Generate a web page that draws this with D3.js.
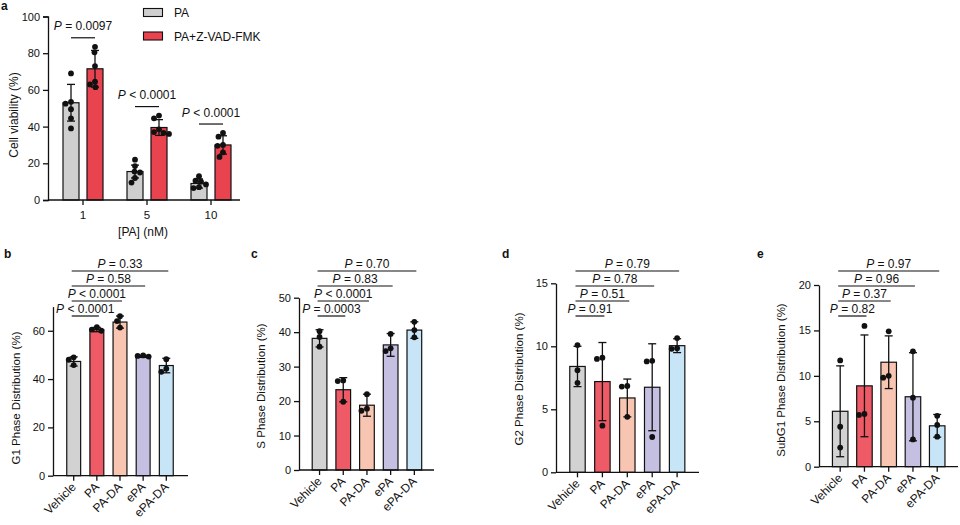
<!DOCTYPE html>
<html><head><meta charset="utf-8">
<script src="https://cdn.jsdelivr.net/npm/d3@7"></script>
<style>
body{margin:0;background:#fff;}
svg{display:block;font-family:"Liberation Sans",Arial,sans-serif;}
svg text{font-family:"Liberation Sans",Arial,sans-serif;}
</style></head><body><svg id="chart" width="960" height="525"></svg>
<script>
// ---------- Panel a data ----------
const doseCategories = ["1", "5", "10"];
const treatmentSeries = ["PA", "PA+Z-VAD-FMK"];
const viabilityMeanPA = [53, 15.5, 9];
const viabilitySdPA = [10, 3.5, 2.5];
const viabilityMeanZVAD = [71.5, 39.5, 30];
const viabilitySdZVAD = [10, 4.3, 5];
const viabilityPointsPA = [[69, 53.5, 52.5, 49.5, 44.5, 39], [22, 18.5, 15.5, 15, 12, 9.5], [13, 10.5, 10, 8.5, 7, 6.5]];
const viabilityPointsZVAD = [[83.5, 80.5, 73, 64.5, 63, 61.5], [46, 44.5, 38.5, 37, 36.5, 36], [36.5, 34.5, 30, 29.5, 26, 23.5]];
const viabilityPLabels = ["= 0.0097", "< 0.0001", "< 0.0001"];
const viabilityTicks = [0, 20, 40, 60, 80, 100];

// ---------- Panels b–e data ----------
const groups = ["Vehicle", "PA", "PA-DA", "ePA", "ePA-DA"];

const g1Mean = [47.3, 60.5, 63.6, 49.4, 45.6];
const g1Sd = [1.9, 0.9, 2.5, 0.4, 3.0];
const g1Points = [[49, 48, 45.8], [61.5, 60.5, 60], [66, 64, 61.3], [49.8, 49.6, 49.3], [48.2, 44.3, 43]];
const g1PLabels = ["< 0.0001", "< 0.0001", "= 0.58", "= 0.33"];
const g1Ticks = [0, 20, 40, 60];

const sMean = [38.2, 23.3, 18.8, 36.3, 40.6];
const sSd = [2.5, 3.5, 3.2, 3.3, 2.4];
const sPoints = [[40.3, 38.6, 35.8], [26, 25.8, 19.8], [22, 17.8, 17.2], [39.5, 35.3, 34.5], [43, 40.6, 38.5]];
const sPLabels = ["= 0.0003", "< 0.0001", "= 0.83", "= 0.70"];
const sTicks = [0, 10, 20, 30, 40, 50];

const g2Mean = [8.4, 7.2, 5.9, 6.75, 10.05];
const g2Sd = [1.6, 3.1, 1.5, 3.45, 0.55];
const g2Points = [[10.1, 8.1, 7.1], [9.1, 9.0, 3.7], [6.85, 6.8, 4.4], [8.85, 8.8, 2.8], [10.65, 9.85, 9.8]];
const g2PLabels = ["= 0.91", "= 0.51", "= 0.78", "= 0.79"];
const g2Ticks = [0, 5, 10, 15];

const subG1Mean = [6.1, 8.9, 11.5, 7.7, 4.5];
const subG1Sd = [5.0, 5.6, 2.9, 4.85, 1.25];
const subG1Points = [[11.7, 4.4, 2.1], [15.5, 5.7, 5.8], [14.9, 9.8, 10.0], [12.7, 7.6, 3.0], [5.6, 4.6, 3.3]];
const subG1PLabels = ["= 0.82", "= 0.37", "= 0.96", "= 0.97"];
const subG1Ticks = [0, 5, 10, 15, 20];

// ---------- styling ----------
const colorsA = ["#cfcfcf", "#e8434f"];
const groupColors = ["#d2d2d2", "#ee5a66", "#f8c5b2", "#c5c0e2", "#c8e5f7"];
const INK = "#111";
const FONT = "Liberation Sans, Arial, sans-serif";
const svg = d3.select("#chart");

function placePoints(vals, y, r) {
  // small deterministic beeswarm: offset points horizontally only when they overlap
  const order = vals.map((v, i) => ({i, py: y(v)})).sort((a, b) => a.py - b.py);
  const placed = [], off = new Array(vals.length).fill(0);
  const d = 2 * r * 0.95;
  order.forEach(p => {
    let best = 0;
    for (let k = 0; k < 60; k++) {
      const cand = k === 0 ? 0 : (k % 2 ? -1 : 1) * Math.ceil(k / 2) * 0.5;
      if (placed.every(q => (q.x - cand) ** 2 + (q.py - p.py) ** 2 >= d * d)) { best = cand; break; }
    }
    placed.push({x: best, py: p.py});
    off[p.i] = best;
  });
  return off;
}

function pText(sel, label, size) {
  sel.attr("font-size", size).attr("fill", INK).attr("font-family", FONT);
  sel.append("tspan").attr("font-style", "italic").text("P");
  sel.append("tspan").text(" " + label);
}

function drawBar(g, cx, w, yScale, mean, sd, pts, fill, capW) {
  g.append("rect").attr("x", cx - w / 2).attr("y", yScale(mean))
    .attr("width", w).attr("height", yScale(0) - yScale(mean))
    .attr("fill", fill).attr("stroke", INK).attr("stroke-width", 1.2);
  const lo = yScale(Math.max(0, mean - sd)), hi = yScale(mean + sd);
  g.append("line").attr("x1", cx).attr("x2", cx).attr("y1", lo).attr("y2", hi).attr("stroke", INK).attr("stroke-width", 1.3);
  [lo, hi].forEach(yy => g.append("line").attr("x1", cx - capW / 2).attr("x2", cx + capW / 2).attr("y1", yy).attr("y2", yy).attr("stroke", INK).attr("stroke-width", 1.3));
  const offs = placePoints(pts, yScale, 2.9);
  pts.forEach((v, i) => g.append("circle").attr("cx", cx + offs[i]).attr("cy", yScale(v)).attr("r", 2.9).attr("fill", INK));
}

function styleAxis(g) {
  g.attr("font-family", FONT);
  g.selectAll("path,line").attr("stroke", INK).attr("stroke-width", 1.3);
  g.selectAll("text").attr("fill", INK).attr("font-family", FONT);
}

// ---------- Panel a ----------
(function () {
  const y = d3.scaleLinear().domain([0, 100]).range([200, 16.5]);
  const x = d3.scaleBand().domain(doseCategories).range([51, 243]);
  const xi = d3.scaleBand().domain(treatmentSeries).range([12, 52]).paddingInner(1 / 3);
  const g = svg.append("g");
  const means = [viabilityMeanPA, viabilityMeanZVAD];
  const sds = [viabilitySdPA, viabilitySdZVAD];
  const pts = [viabilityPointsPA, viabilityPointsZVAD];
  doseCategories.forEach((c, ci) => {
    treatmentSeries.forEach((s, si) => {
      const cx = x(c) + xi(s) + xi.bandwidth() / 2;
      drawBar(g, cx, xi.bandwidth(), y, means[si][ci], sds[si][ci], pts[si][ci], colorsA[si], 8);
    });
    const x1 = x(c) + xi(treatmentSeries[0]) + xi.bandwidth() / 2;
    const x2 = x(c) + xi(treatmentSeries[1]) + xi.bandwidth() / 2;
    const top = Math.max(...pts[1][ci], means[1][ci] + sds[1][ci]);
    const ly = y(top) - 9;
    g.append("line").attr("x1", x1).attr("x2", x2).attr("y1", ly).attr("y2", ly).attr("stroke", INK).attr("stroke-width", 1.2);
    g.append("text").attr("x", (x1 + x2) / 2).attr("y", ly - 7.5).attr("text-anchor", "middle").call(pText, viabilityPLabels[ci], 12);
  });
  const ya = g.append("g").attr("transform", "translate(48,0)")
    .call(d3.axisLeft(y).tickValues(viabilityTicks).tickSize(5).tickPadding(3));
  ya.selectAll("text").attr("font-size", 11);
  styleAxis(ya);
  const xa = g.append("g").attr("transform", "translate(0,200)")
    .call(d3.axisBottom(x).tickSize(5).tickPadding(6));
  xa.select(".domain").remove();
  xa.selectAll("text").attr("font-size", 11.5);
  styleAxis(xa);
  g.append("line").attr("x1", 48).attr("x2", 240).attr("y1", 200).attr("y2", 200).attr("stroke", INK).attr("stroke-width", 1.3);
  g.append("text").attr("transform", "translate(18,115) rotate(-90)").attr("text-anchor", "middle").attr("font-size", 12).attr("fill", INK).text("Cell viability (%)");
  g.append("text").attr("x", 143).attr("y", 236).attr("text-anchor", "middle").attr("font-size", 12).attr("fill", INK).text("[PA] (nM)");
  treatmentSeries.forEach((s, i) => {
    const ly = 8.5 + i * 23.5;
    g.append("rect").attr("x", 143.5).attr("y", ly).attr("width", 19).attr("height", 8).attr("fill", colorsA[i]).attr("stroke", INK).attr("stroke-width", 1.1);
    g.append("text").attr("x", 174).attr("y", ly + 8.5).attr("font-size", 12).attr("fill", INK).text(s);
  });
  g.append("text").attr("x", 1).attr("y", 10).attr("font-size", 12).attr("font-weight", "bold").attr("fill", INK).text("a");
})();

// ---------- Panels b–e ----------
const panels = [
  {letter: "b", letterX: 4, title: "G1 Phase Distribution (%)", titleX: 20, titleY: 398, mean: g1Mean, sd: g1Sd, pts: g1Points, pl: g1PLabels, ticks: g1Ticks, max: 70, axisX: 53, bandStart: 57.5, bandEnd: 182.5, axisEnd: 188, yBottom: 475.7, yTop: 306.6, barPad: 0.4},
  {letter: "c", letterX: 251, title: "S Phase Distribution (%)", titleX: 265, titleY: 386, mean: sMean, sd: sSd, pts: sPoints, pl: sPLabels, ticks: sTicks, max: 50, axisX: 299, bandStart: 303.2, bandEnd: 430.7, axisEnd: 434, yBottom: 470, yTop: 297.7, barPad: 0.38},
  {letter: "d", letterX: 502, title: "G2 Phase Distribution (%)", titleX: 523, titleY: 379, mean: g2Mean, sd: g2Sd, pts: g2Points, pl: g2PLabels, ticks: g2Ticks, max: 15, axisX: 556, bandStart: 560.3, bandEnd: 694.3, axisEnd: 699, yBottom: 472.3, yTop: 283.3, barPad: 0.38},
  {letter: "e", letterX: 757, title: "SubG1 Phase Distribution (%)", titleX: 785, titleY: 380, mean: subG1Mean, sd: subG1Sd, pts: subG1Points, pl: subG1PLabels, ticks: subG1Ticks, max: 20, axisX: 819, bandStart: 823.7, bandEnd: 953.7, axisEnd: 958, yBottom: 466.7, yTop: 285, barPad: 0.36}
];

panels.forEach(P => {
  const g = svg.append("g");
  const y = d3.scaleLinear().domain([0, P.max]).range([P.yBottom, P.yTop]);
  const x = d3.scaleBand().domain(groups).range([P.bandStart, P.bandEnd]).padding(P.barPad);
  const xc = d => x(d) + x.bandwidth() / 2;
  groups.forEach((grp, i) => drawBar(g, xc(grp), x.bandwidth(), y, P.mean[i], P.sd[i], P.pts[i], groupColors[i], 8));
  const ya = g.append("g").attr("transform", `translate(${P.axisX},0)`)
    .call(d3.axisLeft(y).tickValues(P.ticks).tickSize(5).tickPadding(3).tickSizeOuter(0));
  ya.selectAll("text").attr("font-size", 11);
  styleAxis(ya);
  const xa = g.append("g").attr("transform", `translate(0,${P.yBottom})`)
    .call(d3.axisBottom(x).tickSize(5).tickFormat(""));
  xa.select(".domain").remove();
  styleAxis(xa);
  g.append("line").attr("x1", P.axisX).attr("x2", P.axisEnd).attr("y1", P.yBottom).attr("y2", P.yBottom).attr("stroke", INK).attr("stroke-width", 1.3);
  groups.forEach(grp => {
    g.append("text").attr("transform", `translate(${xc(grp) + 3},${P.yBottom + 12}) rotate(-45)`)
      .attr("text-anchor", "end").attr("font-size", 12).attr("fill", INK).text(grp);
  });
  g.append("text").attr("transform", `translate(${P.titleX},${P.titleY}) rotate(-90)`)
    .attr("text-anchor", "middle").attr("font-size", 11.5).attr("fill", INK).text(P.title);
  P.pl.forEach((lab, i) => {
    const ly = 316 - 15 * i;
    const x1 = xc(groups[0]) - 2, x2 = xc(groups[i + 1]) + 2;
    g.append("line").attr("x1", x1).attr("x2", x2).attr("y1", ly).attr("y2", ly).attr("stroke", INK).attr("stroke-width", 1.2);
    g.append("text").attr("x", (x1 + x2) / 2).attr("y", ly - 3).attr("text-anchor", "middle").call(pText, lab, 12);
  });
  g.append("text").attr("x", P.letterX).attr("y", 258).attr("font-size", 12).attr("font-weight", "bold").attr("fill", INK).text(P.letter);
});
</script></body></html>
